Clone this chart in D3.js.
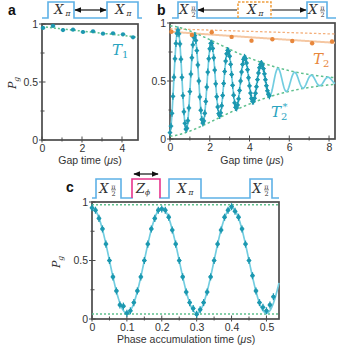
<!DOCTYPE html>
<html><head><meta charset="utf-8">
<script src="https://cdn.jsdelivr.net/npm/d3@7"></script>
<style>body{margin:0;background:#fff}svg{display:block}</style>
</head><body><svg id="fig" width="338" height="346"></svg>
<script>
// ---------- data ----------
const aTimes = [0.05,0.55,1.05,1.55,2.05,2.55,3.05,3.55,4.05,4.55];
const aPg    = [0.966,0.983,0.948,0.951,0.931,0.937,0.917,0.920,0.911,0.885];
const aFit   = {p0:0.977, T1:50};

const bStart = 0, bStep = 0.05;
const bRamsey = [0.055,0.111,0.221,0.368,0.533,0.692,0.824,0.910,0.939,0.907,
0.820,0.688,0.532,0.374,0.235,0.135,0.085,0.093,0.158,0.268,
0.409,0.560,0.701,0.812,0.878,0.891,0.850,0.762,0.639,0.500,
0.363,0.248,0.169,0.137,0.156,0.222,0.324,0.448,0.577,0.692,
0.778,0.825,0.825,0.781,0.700,0.594,0.476,0.365,0.276,0.219,
0.202,0.226,0.287,0.376,0.479,0.582,0.672,0.735,0.764,0.756,
0.714,0.644,0.556,0.463,0.378,0.312,0.273,0.268,0.293,0.346,
0.419,0.500,0.578,0.644,0.687,0.704,0.693,0.655,0.598,0.528,
0.458,0.396,0.350,0.326,0.327,0.351,0.395,0.451,0.512,0.569,
0.615,0.643,0.651,0.639,0.607,0.562,0.511,0.460,0.416,0.386,0.372];
const bEchoTimes = [0.07,1.1,2.1,3.1,4.1,5.15,6.15,7.15,8.15];
const bEcho      = [0.925,0.897,0.92,0.88,0.848,0.86,0.845,0.825,0.84];
const bFit  = {mid:0.5, amp:0.45, envAmp:0.475, period:0.84, t0:0.4, tau:4.35, pw:1.6};
const bEchoFit = {p0:0.925, T:76};
const bLimit   = {p0:0.95, T:171};

const cStart = 0, cStep = 0.01;
const cPhase = [0.95,0.93,0.86,0.77,0.64,0.50,0.36,0.24,0.12,0.11,
0.05,0.07,0.14,0.24,0.36,0.50,0.64,0.77,0.86,0.93,
0.94,0.93,0.87,0.76,0.64,0.50,0.36,0.23,0.14,0.09,
0.04,0.08,0.14,0.23,0.36,0.50,0.64,0.76,0.87,0.93,
0.96,0.92,0.87,0.77,0.64,0.50,0.37,0.24,0.14,0.10,0.07,0.12,0.19];
const cFit = {mid:0.5, amp:0.45, period:0.2};
const cLevels = [0.977, 0.043];

// ---------- style ----------
const DOT = "#1c98b0", FIT = "#72cde0", GREEN = "#5fc08e", ORANGE = "#e8873c",
      ORFIT = "#f5c7a2", ORDOT = "#f4b07c", PULSE = "#5eb1e6", PINK = "#e8348c", AX = "#4a4a4a";
const SANS = "'Liberation Sans', Arial, sans-serif", SERIF = "'DejaVu Serif', 'Liberation Serif', serif";

const svg = d3.select("#fig");

function frame(x, y, xt, xminor, yt, yminor, xfmt) {
  const g = svg.append("g");
  const [x0, x1] = x.range(), [y0, y1] = y.range();
  xminor.forEach(v => g.append("line").attr("x1", x(v)).attr("x2", x(v)).attr("y1", y0 - 2.5).attr("y2", y0 + 1.5).attr("stroke", AX).attr("stroke-width", 1));
  xt.forEach(v => g.append("line").attr("x1", x(v)).attr("x2", x(v)).attr("y1", y0 - 3.5).attr("y2", y0 + 2.5).attr("stroke", AX).attr("stroke-width", 1));
  yminor.forEach(v => g.append("line").attr("x1", x0 - 1.5).attr("x2", x0 + 2.5).attr("y1", y(v)).attr("y2", y(v)).attr("stroke", AX).attr("stroke-width", 1));
  yt.forEach(v => g.append("line").attr("x1", x0 - 3).attr("x2", x0 + 3.5).attr("y1", y(v)).attr("y2", y(v)).attr("stroke", AX).attr("stroke-width", 1));
  g.append("rect").attr("x", x0).attr("y", y1).attr("width", x1 - x0).attr("height", y0 - y1)
    .attr("fill", "none").attr("stroke", AX).attr("stroke-width", 1.7);
  const ax = g.append("g").attr("transform", `translate(0,${y0})`)
    .call(d3.axisBottom(x).tickValues(xt).tickSize(0).tickPadding(5).tickFormat(xfmt));
  ax.select(".domain").remove();
  ax.selectAll("text").attr("font-family", SANS).attr("font-size", 10.5).attr("fill", "#333");
  const ay = g.append("g").attr("transform", `translate(${x0},0)`)
    .call(d3.axisLeft(y).tickValues(yt).tickSize(0).tickPadding(4).tickFormat(d3.format("~g")));
  ay.select(".domain").remove();
  ay.selectAll("text").attr("font-family", SANS).attr("font-size", 10.5).attr("fill", "#333");
  return g;
}

function pgLabel(cx, cy) {
  const t = svg.append("text").attr("transform", `translate(${cx},${cy}) rotate(-90)`)
    .attr("text-anchor", "middle").attr("font-family", SERIF).attr("font-style", "italic").attr("font-size", 11).attr("fill", "#333");
  t.append("tspan").text("P");
  t.append("tspan").attr("font-size", 7.5).attr("dy", 3).text("g");
}

function panelLabel(x, y, s) {
  svg.append("text").attr("x", x).attr("y", y).attr("font-family", SANS).attr("font-weight", "bold").attr("font-size", 14).attr("fill", "#111").text(s);
}

function pulseLabel(cx, base, frac) {
  const g = svg.append("g").attr("font-family", SERIF).attr("font-style", "italic").attr("fill", "#333");
  if (frac) {
    g.append("text").attr("x", cx - 2).attr("y", base).attr("text-anchor", "middle").attr("font-size", 13).text("X");
    g.append("text").attr("x", cx + 7.5).attr("y", base - 4.5).attr("text-anchor", "middle").attr("font-size", 6.5).attr("font-style", "normal").text("π");
    g.append("line").attr("x1", cx + 5).attr("x2", cx + 10).attr("y1", base - 3.2).attr("y2", base - 3.2).attr("stroke", "#333").attr("stroke-width", 0.6);
    g.append("text").attr("x", cx + 7.5).attr("y", base + 2.5).attr("text-anchor", "middle").attr("font-size", 6.5).attr("font-style", "normal").text("2");
  } else {
    g.append("text").attr("x", cx - 2).attr("y", base).attr("text-anchor", "middle").attr("font-size", 13).text("X");
    g.append("text").attr("x", cx + 7).attr("y", base + 2).attr("text-anchor", "middle").attr("font-size", 7.5).text("π");
  }
}

const defs = svg.append("defs");
defs.append("marker").attr("id", "ah").attr("viewBox", "0 0 10 10").attr("refX", 9).attr("refY", 5)
  .attr("markerWidth", 6).attr("markerHeight", 6).attr("orient", "auto-start-reverse")
  .append("path").attr("d", "M0,1 L10,5 L0,9 Z").attr("fill", "#111");
function arrow(x1, x2, y, start, end) {
  const l = svg.append("line").attr("x1", x1).attr("x2", x2).attr("y1", y).attr("y2", y).attr("stroke", "#111").attr("stroke-width", 1.2);
  if (start) l.attr("marker-start", "url(#ah)");
  if (end) l.attr("marker-end", "url(#ah)");
}

function pulseTrain(xStart, xEnd, base, top, pulses, color) {
  let d = `M${xStart},${base}`;
  pulses.forEach(p => { d += `L${p[0]},${base}L${p[0]},${top}L${p[1]},${top}L${p[1]},${base}`; });
  d += `L${xEnd},${base}`;
  svg.append("path").attr("d", d).attr("fill", "none").attr("stroke", color).attr("stroke-width", 1.6);
}

function dots(g, xs, ys, x, y, err, r) {
  xs.forEach((t, i) => {
    g.append("line").attr("x1", x(t)).attr("x2", x(t)).attr("y1", y(ys[i] - err)).attr("y2", y(ys[i] + err))
      .attr("stroke", DOT).attr("stroke-width", 1.3);
    g.append("line").attr("x1", x(t) - 2.3).attr("x2", x(t) + 2.3).attr("y1", y(ys[i])).attr("y2", y(ys[i]))
      .attr("stroke", DOT).attr("stroke-width", 1.1);
  });
  g.selectAll(null).data(xs).enter().append("circle")
    .attr("cx", t => x(t)).attr("cy", (t, i) => y(ys[i])).attr("r", r).attr("fill", DOT);
}

// ================= Panel a =================
const xa = d3.scaleLinear().domain([0, 4.8]).range([42, 138]);
const ya = d3.scaleLinear().domain([0, 1]).range([140, 24]);
frame(xa, ya, [0, 2, 4], [1, 3], [0, 0.5, 1], [0.25, 0.75], d3.format("~g"));
pgLabel(16, 83);
panelLabel(8, 15, "a");
{
  const g = svg.append("g");
  const grid = d3.range(0, 4.81, 0.05);
  g.append("path").datum(grid).attr("fill", "none").attr("stroke", GREEN).attr("stroke-width", 1.5).attr("stroke-dasharray", "2,2")
    .attr("d", d3.line().x(t => xa(t)).y(t => ya(aFit.p0 * Math.exp(-t / aFit.T1))));
  dots(g, aTimes, aPg, xa, ya, 0.012, 2.1);
  const t = g.append("text").attr("x", 112).attr("y", 55).attr("font-family", SERIF).attr("font-style", "italic").attr("font-size", 15).attr("fill", "#2aa4bf");
  t.append("tspan").text("T");
  t.append("tspan").attr("font-size", 10).attr("font-style", "normal").attr("dy", 3).text("1");
}
svg.append("text").attr("x", 90).attr("y", 164).attr("text-anchor", "middle").attr("font-family", SANS).attr("font-size", 10.5).attr("fill", "#333")
  .html("Gap time (<tspan font-style='italic'>μ</tspan>s)");
pulseTrain(42, 142, 18, 2, [[48, 74], [107, 138]], PULSE);
pulseLabel(61, 14, false);
pulseLabel(122, 14, false);
arrow(75, 106, 10, true, true);

// ================= Panel b =================
const xb = d3.scaleLinear().domain([0, 8.3]).range([170, 335]);
const yb = d3.scaleLinear().domain([0, 1]).range([139, 23]);
frame(xb, yb, [0, 2, 4, 6, 8], [1, 3, 5, 7], [0, 0.5, 1], [0.25, 0.75], d3.format("~g"));
panelLabel(157, 15, "b");
{
  const g = svg.append("g");
  const grid = d3.range(0, 8.301, 0.02);
  const dec = t => Math.exp(-Math.pow(t / bFit.tau, bFit.pw));
  g.append("path").datum(grid).attr("fill", "none").attr("stroke", ORDOT).attr("stroke-width", 1.3).attr("stroke-dasharray", "2.5,2")
    .attr("d", d3.line().x(t => xb(t)).y(t => yb(bLimit.p0 * Math.exp(-t / bLimit.T))));
  g.append("path").datum(grid).attr("fill", "none").attr("stroke", ORFIT).attr("stroke-width", 2)
    .attr("d", d3.line().x(t => xb(t)).y(t => yb(bEchoFit.p0 * Math.exp(-t / bEchoFit.T))));
  [1, -1].forEach(s => g.append("path").datum(grid).attr("fill", "none").attr("stroke", GREEN).attr("stroke-width", 1.5).attr("stroke-dasharray", "2.5,2.5")
    .attr("d", d3.line().x(t => xb(t)).y(t => yb(bFit.mid + s * bFit.envAmp * dec(t)))));
  g.append("path").datum(grid).attr("fill", "none").attr("stroke", FIT).attr("stroke-width", 1.7)
    .attr("d", d3.line().x(t => xb(t)).y(t => yb(bFit.mid + bFit.amp * dec(t) * Math.cos(2 * Math.PI * (t - bFit.t0) / bFit.period))));
  const bTimes = bRamsey.map((v, i) => bStart + i * bStep);
  dots(g, bTimes, bRamsey, xb, yb, 0.03, 1.9);
  bEchoTimes.forEach((t, i) => g.append("line").attr("x1", xb(t)).attr("x2", xb(t)).attr("y1", yb(bEcho[i] - 0.015)).attr("y2", yb(bEcho[i] + 0.015)).attr("stroke", ORANGE).attr("stroke-width", 1));
  g.selectAll(null).data(bEchoTimes).enter().append("circle").attr("cx", t => xb(t)).attr("cy", (t, i) => yb(bEcho[i])).attr("r", 2.2).attr("fill", ORANGE);
  const t2 = g.append("text").attr("x", 313).attr("y", 64).attr("font-family", SERIF).attr("font-style", "italic").attr("font-size", 15).attr("fill", ORANGE);
  t2.append("tspan").text("T");
  t2.append("tspan").attr("font-size", 10).attr("font-style", "normal").attr("dy", 3).text("2");
  const ts = g.append("text").attr("x", 271).attr("y", 117).attr("font-family", SERIF).attr("font-style", "italic").attr("font-size", 15).attr("fill", "#2aa4bf");
  ts.append("tspan").text("T");
  ts.append("tspan").attr("font-size", 10).attr("font-style", "normal").attr("dy", 3).text("2");
  ts.append("tspan").attr("font-size", 10).attr("font-style", "normal").attr("dx", -5).attr("dy", -10).text("*");
}
svg.append("text").attr("x", 252).attr("y", 164).attr("text-anchor", "middle").attr("font-family", SANS).attr("font-size", 10.5).attr("fill", "#333")
  .html("Gap time (<tspan font-style='italic'>μ</tspan>s)");
pulseTrain(172, 336, 18, 2, [[178, 197], [307, 327]], PULSE);
svg.append("path").attr("d", "M238,18L238,2L271,2L271,18").attr("fill", "none").attr("stroke", "#f0a040").attr("stroke-width", 1.6).attr("stroke-dasharray", "2.5,1.5");
pulseLabel(186, 14, true);
pulseLabel(254, 14, false);
pulseLabel(315, 14, true);
arrow(198, 237, 10, true, false);
arrow(272, 306, 10, false, true);

// ================= Panel c =================
const xc = d3.scaleLinear().domain([0, 0.536]).range([92, 279]);
const yc = d3.scaleLinear().domain([0, 1]).range([319, 202]);
frame(xc, yc, [0, 0.1, 0.2, 0.3, 0.4, 0.5], [0.05, 0.15, 0.25, 0.35, 0.45], [0, 0.5, 1], [0.25, 0.75], d3.format("~g"));
pgLabel(60, 262);
panelLabel(66, 192, "c");
{
  const g = svg.append("g");
  cLevels.forEach(v => g.append("line").attr("x1", xc(0)).attr("x2", xc(0.536)).attr("y1", yc(v)).attr("y2", yc(v))
    .attr("stroke", GREEN).attr("stroke-width", 1.5).attr("stroke-dasharray", "2,2"));
  const grid = d3.range(0, 0.5361, 0.002);
  g.append("path").datum(grid).attr("fill", "none").attr("stroke", FIT).attr("stroke-width", 1.7)
    .attr("d", d3.line().x(t => xc(t)).y(t => yc(cFit.mid + cFit.amp * Math.cos(2 * Math.PI * t / cFit.period))));
  const cTimes = cPhase.map((v, i) => cStart + i * cStep);
  dots(g, cTimes, cPhase, xc, yc, 0.03, 2.1);
}
svg.append("text").attr("x", 186).attr("y", 343).attr("text-anchor", "middle").attr("font-family", SANS).attr("font-size", 10.5).attr("fill", "#333")
  .html("Phase accumulation time (<tspan font-style='italic'>μ</tspan>s)");
pulseTrain(92, 279, 198, 179, [[96, 121], [169, 201], [250, 272]], PULSE);
svg.append("line").attr("x1", 132.8).attr("x2", 159.2).attr("y1", 198).attr("y2", 198).attr("stroke", "#fff").attr("stroke-width", 2.2);
svg.append("path").attr("d", "M132,198L132,179L160,179L160,198").attr("fill", "none").attr("stroke", PINK).attr("stroke-width", 1.6);
pulseLabel(106, 193, true);
{
  const z = svg.append("text").attr("x", 143).attr("y", 193).attr("text-anchor", "middle").attr("font-family", SERIF).attr("font-style", "italic").attr("font-size", 13).attr("fill", "#333");
  z.append("tspan").text("Z");
  z.append("tspan").attr("font-size", 7.5).attr("dy", 2).text("ϕ");
}
pulseLabel(184, 193, false);
pulseLabel(259, 193, true);
arrow(134, 158, 174, true, true);
</script></body></html>
